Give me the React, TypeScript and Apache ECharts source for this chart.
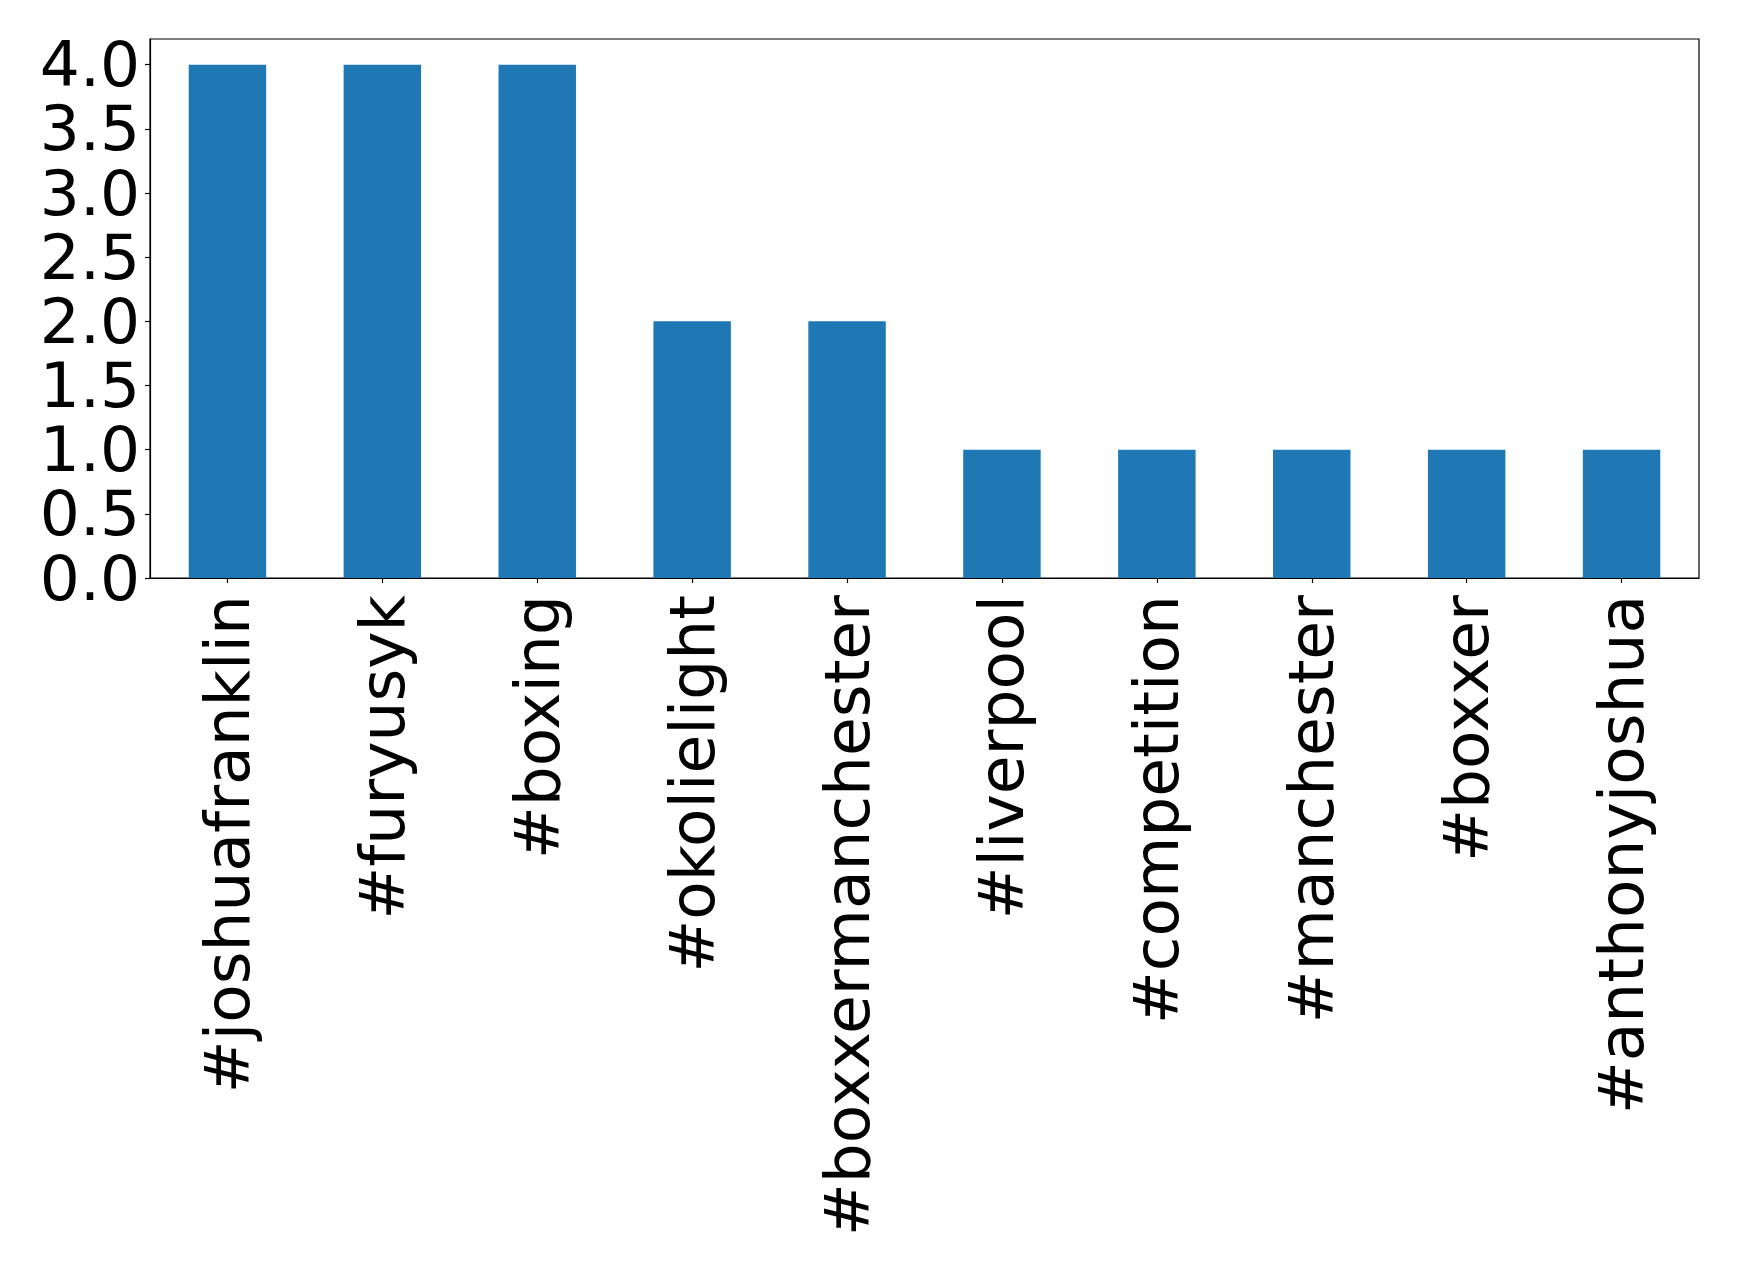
import React, { useEffect, useRef } from "react";
import * as echarts from "echarts";

const categories = [
  "#joshuafranklin",
  "#furyusyk",
  "#boxing",
  "#okolielight",
  "#boxxermanchester",
  "#liverpool",
  "#competition",
  "#manchester",
  "#boxxer",
  "#anthonyjoshua",
];
const counts = [4, 4, 4, 2, 2, 1, 1, 1, 1, 1];

export default function App() {
  const ref = useRef<HTMLDivElement>(null);
  useEffect(() => {
    document.body.style.margin = "0";
    const chart = echarts.init(ref.current!, null, { renderer: "svg" });
    const font = "DejaVu Sans";
    chart.setOption({
      animation: false,
      backgroundColor: "#ffffff",
      grid: {
        left: 150,
        top: 39,
        right: 40,
        bottom: 686,
        show: true,
        borderColor: "#000",
        borderWidth: 1.2,
        containLabel: false,
      },
      xAxis: {
        type: "category",
        data: categories,
        boundaryGap: true,
        axisLine: { show: true, lineStyle: { color: "#000", width: 1.2 } },
        axisTick: { show: true, alignWithLabel: true, length: 5, lineStyle: { color: "#000", width: 1.2 } },
        axisLabel: {
          rotate: 90,
          interval: 0,
          margin: 17,
          fontSize: 63,
          fontFamily: font,
          color: "#000",
        },
        splitLine: { show: false },
      },
      yAxis: {
        type: "value",
        min: 0,
        max: 4.2,
        interval: 0.5,
        axisLine: { show: true, lineStyle: { color: "#000", width: 1.2 } },
        axisTick: { show: true, length: 5, lineStyle: { color: "#000", width: 1.2 } },
        axisLabel: {
          margin: 10,
          fontSize: 63,
          lineHeight: 58,
          fontFamily: font,
          color: "#000",
          showMaxLabel: false,
          formatter: (v: number) =>
            Math.abs(v * 2 - Math.round(v * 2)) < 1e-6 ? v.toFixed(1) : "",
        },
        splitLine: { show: false },
      },
      series: [
        {
          type: "bar",
          data: counts,
          barWidth: "50%",
          itemStyle: { color: "#1f77b4" },
        },
      ],
    });
    return () => chart.dispose();
  }, []);
  return (
    <div
      ref={ref}
      style={{ width: 1739, height: 1264, position: "absolute", left: 0, top: 0 }}
    />
  );
}
